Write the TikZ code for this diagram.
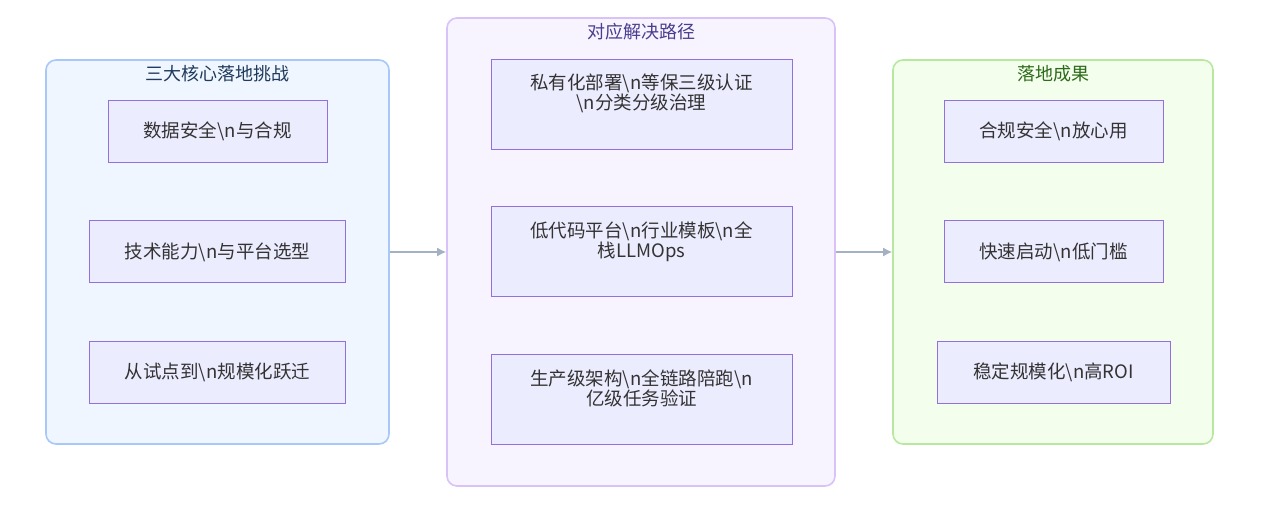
\documentclass[tikz,border=0pt]{standalone}
\usepackage{fontspec}
\setmainfont{Noto Sans CJK SC}
\usepackage{xcolor}
\usetikzlibrary{positioning, arrows.meta}

\definecolor{leftfill}{HTML}{EFF6FF}
\definecolor{leftline}{HTML}{A8C8FA}
\definecolor{lefttitle}{HTML}{1F3A5C}
\definecolor{midfill}{HTML}{F7F4FF}
\definecolor{midline}{HTML}{D8C2F8}
\definecolor{midtitle}{HTML}{4B3D8F}
\definecolor{rightfill}{HTML}{F3FFEC}
\definecolor{rightline}{HTML}{B8E8A0}
\definecolor{righttitle}{HTML}{2D6A1A}
\definecolor{itemfill}{HTML}{ECECFF}
\definecolor{itemline}{HTML}{9370DB}
\definecolor{textgray}{HTML}{333333}
\definecolor{flowgray}{HTML}{A3B1C2}

\begin{document}
\begin{tikzpicture}[x=1pt, y=1pt, node distance = 58]

  \tikzstyle{cluster}=[rounded corners=10, draw, line width=1.6, inner sep=0]
  \tikzstyle{title}=[font=\fontsize{18}{20}\selectfont, inner sep=0]
  \tikzstyle{item}=[draw=itemline, fill=itemfill, line width=0.9, inner sep=0,
    minimum height=62, text=textgray, font=\fontsize{18.5}{20}\selectfont]
  \tikzstyle{itemtext}=[text=textgray, align=center, inner sep=0,
    font=\fontsize{18.5}{20}\selectfont]
  \tikzstyle{flow}=[-{Latex[length=9, width=9]}, draw=flowgray, line width=1.5]

  \useasboundingbox (0,0) rectangle (1263,-506);

  % clusters
  \node [cluster, draw=leftline, fill=leftfill, minimum width=343, minimum height=384] (challenges) at (217.5,-252) {};
  \node [cluster, draw=midline, fill=midfill, minimum width=388, minimum height=468] (paths) at (641,-252) {};
  \node [cluster, draw=rightline, fill=rightfill, minimum width=320, minimum height=384] (results) at (1053,-252) {};

  \node [title, text=lefttitle] (challenges-t) at (217.5,-74) {三大核心落地挑战};
  \node [title, text=midtitle] (paths-t) at (641,-32) {对应解决路径};
  \node [title, text=righttitle] (results-t) at (1053,-74) {落地成果};

  % challenges
  \node [item, minimum width=219] (C-1) at (217.5,-131) {数据安全\textbackslash n与合规};
  \node [item, minimum width=256, below = of C-1] (C-2) {技术能力\textbackslash n与平台选型};
  \node [item, minimum width=256, below = of C-2] (C-3) {从试点到\textbackslash n规模化跃迁};

  % paths
  \node [item, minimum width=301, minimum height=90] (P-1) at (641.5,-104) {};
  \node [item, minimum width=301, minimum height=90, below = 57 of P-1] (P-2) {};
  \node [item, minimum width=301, minimum height=90, below = 57 of P-2] (P-3) {};

  \node [itemtext, below = 15 of P-1.north] (P-1-t) {私有化部署\textbackslash n等保三级认证\\\textbackslash n分类分级治理};
  \node [itemtext, below = 15 of P-2.north] (P-2-t) {低代码平台\textbackslash n行业模板\textbackslash n全\\栈LLMOps};
  \node [itemtext, below = 15 of P-3.north] (P-3-t) {生产级架构\textbackslash n全链路陪跑\textbackslash n\\亿级任务验证};

  % results
  \node [item, minimum width=219] (R-1) at (1053.5,-131) {合规安全\textbackslash n放心用};
  \node [item, minimum width=219, below = of R-1] (R-2) {快速启动\textbackslash n低门槛};
  \node [item, minimum width=233, below = of R-2] (R-3) {稳定规模化\textbackslash n高ROI};

  \draw [flow] (challenges) -- (paths);
  \draw [flow] (paths) -- (results);

\end{tikzpicture}
\end{document}
